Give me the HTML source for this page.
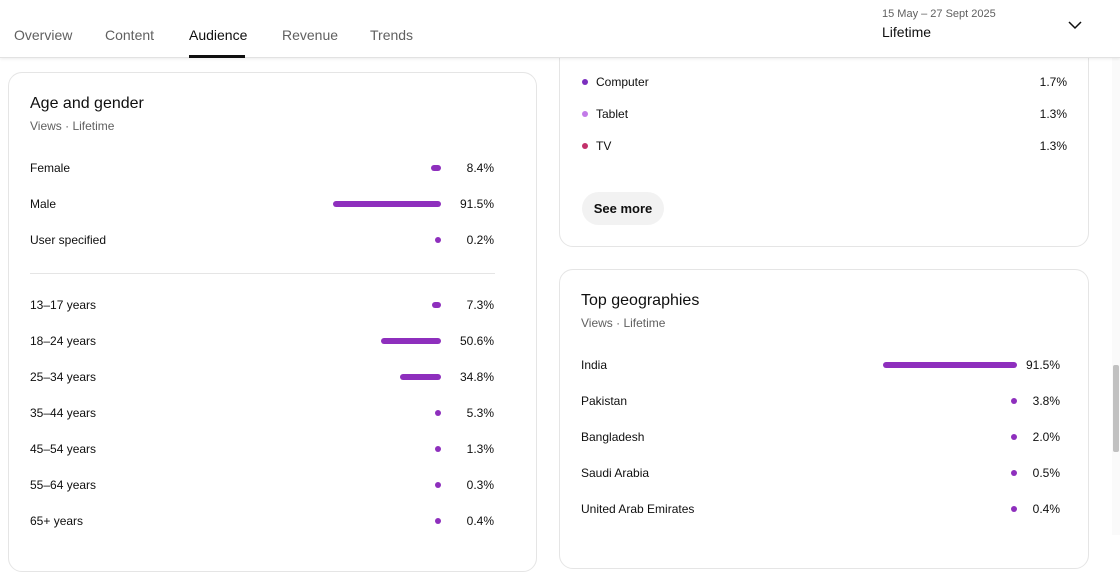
<!DOCTYPE html>
<html><head><style>
*{margin:0;padding:0;box-sizing:border-box}
body{width:1120px;height:535px;overflow:hidden;background:#fff;font-family:"Liberation Sans",Arial,sans-serif;color:#0f0f0f;position:relative}
.hdr{position:absolute;left:0;top:0;width:1120px;height:58px;background:#fff;border-bottom:1px solid #e2e2e2;box-shadow:0 1px 3px rgba(0,0,0,.08);z-index:5}
.tab{position:absolute;top:27px;font-size:14px;color:#606060}
.card{position:absolute;border:1px solid #e5e5e5;border-radius:14px;background:#fff}
.t{position:absolute;font-size:12px;color:#0f0f0f}
.p{position:absolute;font-size:12px;color:#0f0f0f;text-align:right;width:50px}
.b{position:absolute;height:6px;border-radius:3px;background:#8e2fbd}
h2{position:absolute;font-size:16px;font-weight:normal}
.s{position:absolute;font-size:12px;color:#606060}
.d{position:absolute;width:6px;height:6px;border-radius:3px}
</style></head><body>
<div class="card" style="left:8px;top:72px;width:529px;height:500px">
<h2 style="left:21px;top:22px">Age and gender</h2>
<div class="s" style="left:21px;top:46px">Views · Lifetime</div>
<div style="position:absolute;left:21px;top:200px;width:465px;height:1px;background:#e5e5e5"></div>
</div>
<div class="card" style="left:559px;top:20px;width:530px;height:227px"></div>
<div class="card" style="left:559px;top:269px;width:530px;height:300px">
<h2 style="left:21px;top:22px">Top geographies</h2>
<div class="s" style="left:21px;top:46px">Views · Lifetime</div>
</div>
<div id="rows"></div>
<div class="d" style="left:582px;top:79px;background:#7b2fbe"></div><div class="t" style="left:596px;top:75px">Computer</div><div class="p" style="left:1017px;top:75px">1.7%</div>
<div class="d" style="left:582px;top:111px;background:#c27ae8"></div><div class="t" style="left:596px;top:107px">Tablet</div><div class="p" style="left:1017px;top:107px">1.3%</div>
<div class="d" style="left:582px;top:143px;background:#c2306a"></div><div class="t" style="left:596px;top:139px">TV</div><div class="p" style="left:1017px;top:139px">1.3%</div>
<div style="position:absolute;left:582px;top:192px;width:82px;height:33px;border-radius:17px;background:#f2f2f2;font-size:13px;font-weight:bold;line-height:33px;text-align:center">See more</div>
<div class="hdr">
<div class="tab" style="left:14px">Overview</div>
<div class="tab" style="left:105px">Content</div>
<div class="tab" style="left:189px;color:#0f0f0f">Audience</div>
<div style="position:absolute;left:189px;top:55px;width:56px;height:3px;background:#0f0f0f"></div>
<div class="tab" style="left:282px">Revenue</div>
<div class="tab" style="left:370px">Trends</div>
<div style="position:absolute;left:882px;top:8px;font-size:11px;color:#606060">15 May – 27 Sept 2025</div>
<div style="position:absolute;left:882px;top:24px;font-size:14px">Lifetime</div>
<svg style="position:absolute;left:1068px;top:20px" width="14" height="10"><path d="M1 2 L7 8 L13 2" fill="none" stroke="#0f0f0f" stroke-width="1.5"/></svg>
</div>
<div style="position:absolute;left:1112px;top:58px;width:8px;height:477px;background:#fafafa"></div>
<div style="position:absolute;left:1113px;top:365px;width:6px;height:87px;background:#c1c1c1;border-radius:2px"></div>
<script>
var r=[["Female",168,431,10,"8.4%"],["Male",204,333,108,"91.5%"],["User specified",240,435,6,"0.2%"],["13–17 years",305,432,9,"7.3%"],["18–24 years",341,381,60,"50.6%"],["25–34 years",377,400,41,"34.8%"],["35–44 years",413,435,6,"5.3%"],["45–54 years",449,435,6,"1.3%"],["55–64 years",485,435,6,"0.3%"],["65+ years",521,435,6,"0.4%"]];
var g=[["India",365,883,134,"91.5%"],["Pakistan",401,1011,6,"3.8%"],["Bangladesh",437,1011,6,"2.0%"],["Saudi Arabia",473,1011,6,"0.5%"],["United Arab Emirates",509,1011,6,"0.4%"]];
var h="";
r.forEach(function(a){h+='<div class="t" style="left:30px;top:'+(a[1]-7)+'px">'+a[0]+'</div><div class="b" style="left:'+a[2]+'px;top:'+(a[1]-3)+'px;width:'+a[3]+'px"></div><div class="p" style="left:444px;top:'+(a[1]-7)+'px">'+a[4]+'</div>';});
g.forEach(function(a){h+='<div class="t" style="left:581px;top:'+(a[1]-7)+'px">'+a[0]+'</div><div class="b" style="left:'+a[2]+'px;top:'+(a[1]-3)+'px;width:'+a[3]+'px"></div><div class="p" style="left:1010px;top:'+(a[1]-7)+'px">'+a[4]+'</div>';});
document.getElementById("rows").innerHTML=h;
</script>
</body></html>
